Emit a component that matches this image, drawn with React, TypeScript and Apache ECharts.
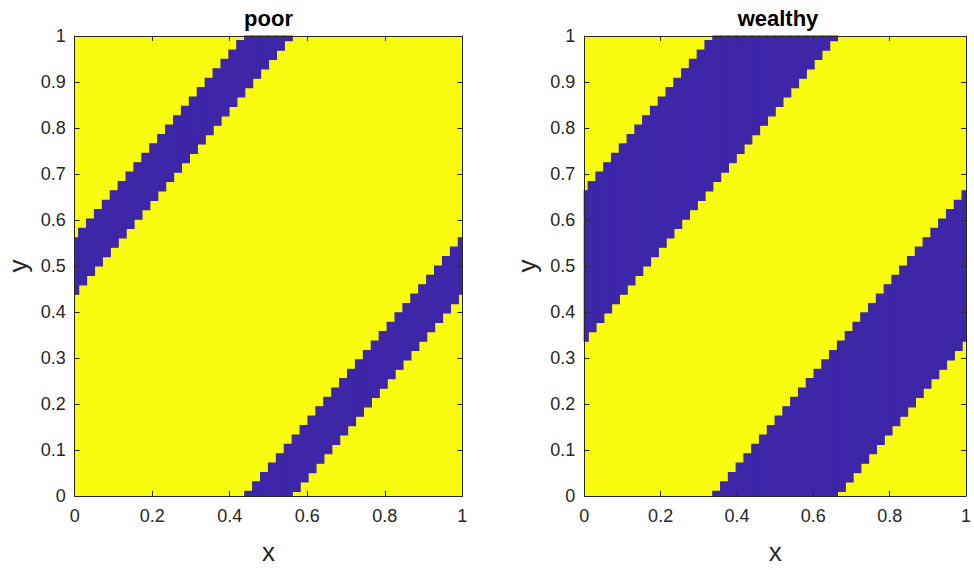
import React, { useEffect, useRef } from "react";
import * as echarts from "echarts";

// Each panel is a 50 x 50 sampled map on [0,1] x [0,1]; cells are centred on the samples.
const GRID_POINTS = 50;
const panelTitles = ["poor", "wealthy"];

// Blue cells for every column (x sample index 0..49), as [firstRow, lastRow] runs of y indices.
const poorBlueRuns: number[][][] = [
  [[22, 27]], [[23, 28]], [[24, 29]], [[25, 30]], [[26, 31]],
  [[27, 32]], [[28, 33]], [[29, 34]], [[30, 35]], [[31, 36]],
  [[32, 37]], [[33, 38]], [[34, 39]], [[35, 40]], [[36, 41]],
  [[37, 42]], [[38, 43]], [[39, 44]], [[40, 45]], [[41, 46]],
  [[42, 47]], [[43, 48]], [[0, 0], [44, 49]], [[0, 1], [45, 49]], [[0, 2], [46, 49]],
  [[0, 3], [47, 49]], [[0, 4], [48, 49]], [[0, 5], [49, 49]], [[1, 6]], [[2, 7]],
  [[3, 8]], [[4, 9]], [[5, 10]], [[6, 11]], [[7, 12]],
  [[8, 13]], [[9, 14]], [[10, 15]], [[11, 16]], [[12, 17]],
  [[13, 18]], [[14, 19]], [[15, 20]], [[16, 21]], [[17, 22]],
  [[18, 23]], [[19, 24]], [[20, 25]], [[21, 26]], [[22, 27]],
];

const wealthyBlueRuns: number[][][] = [
  [[17, 32]], [[18, 33]], [[19, 34]], [[20, 35]], [[21, 36]],
  [[22, 37]], [[23, 38]], [[24, 39]], [[25, 40]], [[26, 41]],
  [[27, 42]], [[28, 43]], [[29, 44]], [[30, 45]], [[31, 46]],
  [[32, 47]], [[33, 48]], [[0, 0], [34, 49]], [[0, 1], [35, 49]], [[0, 2], [36, 49]],
  [[0, 3], [37, 49]], [[0, 4], [38, 49]], [[0, 5], [39, 49]], [[0, 6], [40, 49]], [[0, 7], [41, 49]],
  [[0, 8], [42, 49]], [[0, 9], [43, 49]], [[0, 10], [44, 49]], [[0, 11], [45, 49]], [[0, 12], [46, 49]],
  [[0, 13], [47, 49]], [[0, 14], [48, 49]], [[0, 15], [49, 49]], [[1, 16]], [[2, 17]],
  [[3, 18]], [[4, 19]], [[5, 20]], [[6, 21]], [[7, 22]],
  [[8, 23]], [[9, 24]], [[10, 25]], [[11, 26]], [[12, 27]],
  [[13, 28]], [[14, 29]], [[15, 30]], [[16, 31]], [[17, 32]],
];

const YELLOW = "#F9FB0E";
const BLUE = "#3E26A8";
const INK = "#262626";
const FONT = "'Liberation Sans', Arial, Helvetica, sans-serif";

const STEP = 1 / (GRID_POINTS - 1);

// [xCentre, yLow, yHigh] in axis units for each blue run
function runsToData(runs: number[][][]) {
  const out: number[][] = [];
  runs.forEach((col, i) => {
    col.forEach(([j0, j1]) => out.push([i * STEP, j0 * STEP, j1 * STEP]));
  });
  return out;
}

const panels = [
  { left: 74.7, width: 387.6, runs: poorBlueRuns },
  { left: 584.3, width: 387.4, runs: wealthyBlueRuns },
];
const TOP = 36;
const HEIGHT = 463;

export default function App() {
  const ref = useRef<HTMLDivElement>(null);

  useEffect(() => {
    document.body.style.margin = "0";
    if (!ref.current) return;
    const chart = echarts.init(ref.current, undefined, { renderer: "svg" });

    const line = { show: true, onZero: false, lineStyle: { color: INK, width: 1 } };
    const tick = { show: true, inside: true, length: 5, lineStyle: { color: INK, width: 1 } };

    const xAxis: any[] = [];
    const yAxis: any[] = [];
    panels.forEach((_, k) => {
      xAxis.push({
        gridIndex: k, type: "value", min: 0, max: 1, interval: 0.2, position: "bottom",
        name: "x", nameLocation: "middle", nameGap: 43,
        nameTextStyle: { fontSize: 26, color: INK, fontFamily: FONT },
        axisLine: line, axisTick: tick,
        axisLabel: { fontSize: 18, color: INK, fontFamily: FONT, margin: 11 },
        splitLine: { show: false }, z: 10,
      });
      xAxis.push({
        gridIndex: k, type: "value", min: 0, max: 1, interval: 0.2, position: "top",
        axisLine: line, axisTick: tick, axisLabel: { show: false },
        splitLine: { show: false }, z: 10,
      });
      yAxis.push({
        gridIndex: k, type: "value", min: 0, max: 1, interval: 0.1, position: "left",
        name: "y", nameLocation: "middle", nameGap: 44,
        nameTextStyle: { fontSize: 26, color: INK, fontFamily: FONT },
        axisLine: line, axisTick: tick,
        axisLabel: { fontSize: 18, color: INK, fontFamily: FONT, margin: 9 },
        splitLine: { show: false }, z: 10,
      });
      yAxis.push({
        gridIndex: k, type: "value", min: 0, max: 1, interval: 0.1, position: "right",
        axisLine: line, axisTick: tick, axisLabel: { show: false },
        splitLine: { show: false }, z: 10,
      });
    });

    const series = panels.map((p, k) => ({
      type: "custom",
      xAxisIndex: 2 * k,
      yAxisIndex: 2 * k,
      encode: { x: 0, y: [1, 2] },
      data: runsToData(p.runs),
      renderItem: (params: any, api: any) => {
        const xc = api.value(0);
        const y0 = api.value(1);
        const y1 = api.value(2);
        const a = api.coord([xc - STEP / 2, y1 + STEP / 2]);
        const b = api.coord([xc + STEP / 2, y0 - STEP / 2]);
        const cs = params.coordSys;
        const rect = echarts.graphic.clipRectByRect(
          { x: a[0], y: a[1], width: b[0] - a[0], height: b[1] - a[1] },
          { x: cs.x, y: cs.y, width: cs.width, height: cs.height }
        );
        if (!rect) return null;
        return {
          type: "rect",
          shape: rect,
          style: { fill: BLUE, stroke: BLUE, lineWidth: 1.2 },
        };
      },
    }));

    chart.setOption({
      animation: false,
      backgroundColor: "#ffffff",
      title: panels.map((p, k) => ({
        text: panelTitles[k],
        left: p.left + p.width / 2,
        top: 7,
        padding: 0,
        textAlign: "center",
        textStyle: { fontSize: 22, fontWeight: "bold", color: "#000000", fontFamily: FONT },
      })),
      grid: panels.map((p) => ({
        left: p.left, top: TOP, width: p.width, height: HEIGHT,
        show: true, backgroundColor: YELLOW, borderWidth: 0,
      })),
      xAxis,
      yAxis,
      series,
    });

    return () => chart.dispose();
  }, []);

  return <div ref={ref} style={{ width: 974, height: 570 }} />;
}
